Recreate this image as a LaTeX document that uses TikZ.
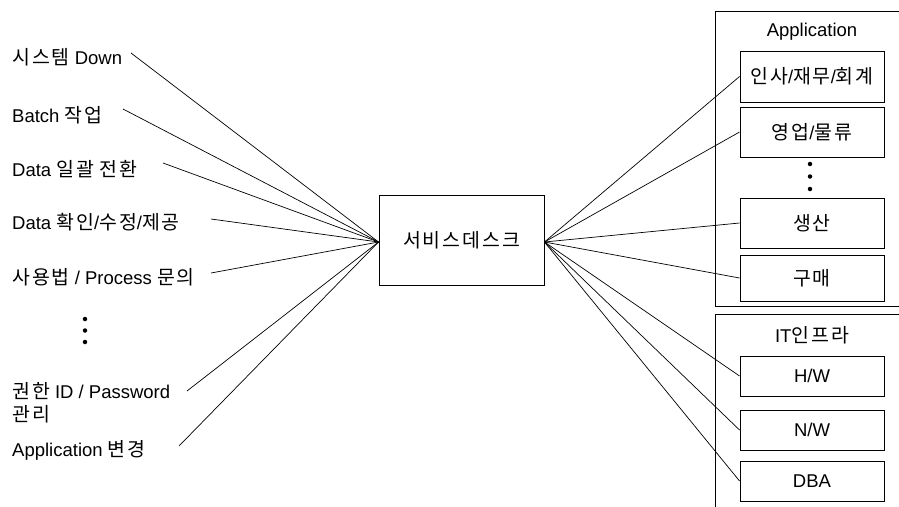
\documentclass[tikz,border=0pt]{standalone}
\usepackage{fontspec}
\setmainfont{Liberation Sans}
\newfontfamily\kr[Scale=1.05,LetterSpace=10]{Noto Sans CJK KR}
\begin{document}
\begin{tikzpicture}[x=1pt,y=-1pt,
  txt/.style={font=\fontsize{18.5}{23}\selectfont, inner sep=0pt},
  lbl/.style={txt, anchor=west, align=left},
  boxn/.style={txt, draw, line width=0.9pt, minimum width=144pt},
  outer/.style={draw, line width=0.9pt},
  conn/.style={line width=0.7pt},
  dotn/.style={circle, fill, inner sep=0pt, minimum size=4.5pt}]
\useasboundingbox (0,0) rectangle (899,506);
\clip (0,0) rectangle (899,506);
% outer groups
\draw[outer] (910,11) -- (715,11) -- (715,306) -- (910,306);
\draw[outer] (910,314) -- (715,314) -- (715,515);
\node[txt] (apptitle) at (812,32) {Application};
\node[txt] (ittitle) at (812,335) {IT{\kr 인프라}};
% hub
\node[boxn, minimum width=165pt, minimum height=90pt] (hub) at (461.5,240) {{\kr 서비스데스크}};
% right boxes
\node[boxn, minimum height=51pt] (app1) at (812,76.5) {{\kr 인사}/{\kr 재무}/{\kr 회계}};
\node[boxn, minimum height=50pt] (app2) at (812,132) {{\kr 영업}/{\kr 물류}};
\node[boxn, minimum height=50pt] (app3) at (812,223) {{\kr 생산}};
\node[boxn, minimum height=46pt] (app4) at (812,278) {{\kr 구매}};
\node[boxn, minimum height=40pt] (hw) at (812,376) {H/W};
\node[boxn, minimum height=40pt] (nw) at (812,430) {N/W};
\node[boxn, minimum height=40pt] (dba) at (812,481) {DBA};
\node[dotn] (rd1) at (810,164) {};
\node[dotn] (rd2) at (810,176.5) {};
\node[dotn] (rd3) at (810,189) {};
% left labels
\node[lbl] (l1) at (12,57) {{\kr 시스템} Down};
\node[lbl] (l2) at (12,115) {Batch {\kr 작업}};
\node[lbl] (l3) at (12,169) {Data {\kr 일괄} {\kr 전환}};
\node[lbl] (l4) at (12,222) {Data {\kr 확인}/{\kr 수정}/{\kr 제공}};
\node[lbl] (l5) at (12,277) {{\kr 사용법} / Process {\kr 문의}};
\node[lbl] (l6) at (12,403) {{\kr 권한} ID / Password\\{\kr 관리}};
\node[lbl] (l7) at (12,450) {Application {\kr 변경}};
\node[dotn] (ld1) at (85,319) {};
\node[dotn] (ld2) at (85,330.5) {};
\node[dotn] (ld3) at (85,342) {};
% line start coordinates
\coordinate (s1) at (131,53);
\coordinate (s2) at (123,109);
\coordinate (s3) at (163,163);
\coordinate (s4) at (211,219);
\coordinate (s5) at (211,273);
\coordinate (s6) at (187,391);
\coordinate (s7) at (179,446);
\coordinate (hl) at ([yshift=-2pt]hub.west);
\coordinate (hr) at ([yshift=-2pt]hub.east);
\foreach \s in {s1,s2,s3,s4,s5,s6,s7} \draw[conn] (\s) -- (hl);
\foreach \t in {app1,app2,app3,app4,hw,nw,dba} \draw[conn] (hr) -- (\t.west);
\end{tikzpicture}
\end{document}
